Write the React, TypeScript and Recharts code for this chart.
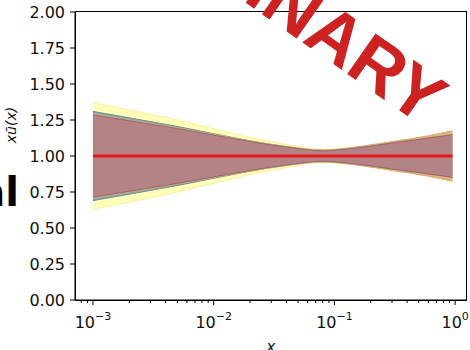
import { ComposedChart, Area, Line, XAxis, YAxis } from "recharts";

// sampling points in x (log spaced)
const xValues = [0.001, 0.002, 0.005, 0.01, 0.02, 0.04, 0.08, 0.15, 0.3, 0.6, 0.95];

// central value (ratio to itself)
const central = [1, 1, 1, 1, 1, 1, 1, 1, 1, 1, 1];

// uncertainty bands, upper and lower edges
const yellowHigh = [1.37, 1.32, 1.25, 1.19, 1.13, 1.08, 1.045, 1.063, 1.1, 1.14, 1.175];
const yellowLow = [0.63, 0.68, 0.75, 0.81, 0.87, 0.92, 0.955, 0.937, 0.9, 0.86, 0.825];
const tealHigh = [1.31, 1.265, 1.205, 1.155, 1.106, 1.065, 1.039, 1.056, 1.092, 1.127, 1.15];
const tealLow = [0.69, 0.735, 0.795, 0.845, 0.894, 0.935, 0.961, 0.944, 0.908, 0.873, 0.85];
const orangeHigh = [1.29, 1.25, 1.195, 1.15, 1.105, 1.066, 1.042, 1.062, 1.1, 1.14, 1.175];
const orangeLow = [0.71, 0.75, 0.805, 0.85, 0.895, 0.934, 0.958, 0.938, 0.9, 0.86, 0.825];
const brownHigh = [1.285, 1.245, 1.19, 1.145, 1.1, 1.062, 1.036, 1.055, 1.09, 1.125, 1.148];
const brownLow = [0.715, 0.755, 0.81, 0.855, 0.9, 0.938, 0.964, 0.945, 0.91, 0.875, 0.852];

const yTicks = [0, 0.25, 0.5, 0.75, 1, 1.25, 1.5, 1.75, 2];
const majorTicks = [0.001, 0.01, 0.1, 1];
const minorTicks = [
  0.0008, 0.0009,
  0.002, 0.003, 0.004, 0.005, 0.006, 0.007, 0.008, 0.009,
  0.02, 0.03, 0.04, 0.05, 0.06, 0.07, 0.08, 0.09,
  0.2, 0.3, 0.4, 0.5, 0.6, 0.7, 0.8, 0.9,
];

const data = xValues.map((x, i) => ({
  x,
  central: central[i],
  yellow: [yellowLow[i], yellowHigh[i]],
  teal: [tealLow[i], tealHigh[i]],
  orange: [orangeLow[i], orangeHigh[i]],
  brown: [brownLow[i], brownHigh[i]],
}));

const FONT = "'DejaVu Sans', sans-serif";

function LogTick(props: any) {
  const { x, y, payload } = props;
  const v = payload.value;
  const major = majorTicks.includes(v);
  const exp = Math.round(Math.log10(v));
  return (
    <g>
      <line x1={x} x2={x} y1={y} y2={y + (major ? 5 : 3)} stroke="#000" strokeWidth={1} />
      {major && (
        <text x={x} y={y + 28} textAnchor="middle" fontFamily={FONT} fontSize={16} fill="#111">
          10
          <tspan dy={-8} fontSize={11}>
            {exp < 0 ? "\u2212" + -exp : String(exp)}
          </tspan>
        </text>
      )}
    </g>
  );
}

export default function App() {
  const W = 470;
  const H = 350;
  return (
    <div style={{ position: "absolute", left: 0, top: 0, width: W, height: H, background: "#fff", overflow: "hidden" }}>
      <ComposedChart width={W} height={H} data={data} margin={{ top: 12, right: 4, left: 0, bottom: 0 }}>
        <XAxis
          dataKey="x"
          type="number"
          scale="log"
          domain={[0.00071, 1.23]}
          allowDataOverflow
          ticks={[...majorTicks, ...minorTicks]}
          interval={0}
          tick={<LogTick />}
          tickLine={false}
          tickSize={0}
          tickMargin={0}
          height={50}
          axisLine={{ stroke: "#000", strokeWidth: 1 }}
        />
        <YAxis
          type="number"
          domain={[0, 2]}
          ticks={yTicks}
          interval={0}
          width={75}
          tickFormatter={(v: number) => v.toFixed(2)}
          tick={{ fill: "#111", fontSize: 16, fontFamily: FONT }}
          tickSize={5}
          tickMargin={5}
          tickLine={{ stroke: "#000" }}
          axisLine={{ stroke: "#000", strokeWidth: 1 }}
        />
        <Area type="monotone" dataKey="yellow" fill="#ffff99" fillOpacity={0.7} stroke="#f6f29a" strokeWidth={1} isAnimationActive={false} dot={false} activeDot={false} />
        <Area type="monotone" dataKey="teal" fill="#7d9ea6" fillOpacity={0.85} stroke="#6f9099" strokeWidth={1} isAnimationActive={false} dot={false} activeDot={false} />
        <Area type="monotone" dataKey="orange" fill="#dcae78" fillOpacity={0.9} stroke="#d9a870" strokeWidth={1} isAnimationActive={false} dot={false} activeDot={false} />
        <Area type="monotone" dataKey="brown" fill="#b48385" fillOpacity={1} stroke="#9c6470" strokeWidth={1} isAnimationActive={false} dot={false} activeDot={false} />
        <Line type="linear" dataKey="central" stroke="#e8141a" strokeWidth={3} dot={false} activeDot={false} isAnimationActive={false} />
      </ComposedChart>
      <svg width={W} height={H} style={{ position: "absolute", left: 0, top: 0, pointerEvents: "none" }}>
        {/* top and right spines */}
        <rect x={75.5} y={11.5} width={391} height={289} fill="none" stroke="#000" strokeWidth={1} />
        <text x={11} y={125} transform="rotate(-90 11 125)" textAnchor="middle" dominantBaseline="central" fontFamily={FONT} fontStyle="italic" fontSize={14} fill="#111">
          xū(x)
        </text>
        <text x={19} y={206} textAnchor="end" fontFamily={FONT} fontWeight="bold" fontSize={40} fill="#000">
          al
        </text>
        <text x={423} y={127} textAnchor="end" transform="rotate(35 423 127)" fontFamily="'Liberation Sans', Arial, sans-serif" fontWeight="bold" fontSize={72} fill="#cc2222">
          PRELIMINARY
        </text>
        <text x={271} y={352} textAnchor="middle" fontFamily={FONT} fontStyle="italic" fontSize={15} fill="#111">
          x
        </text>
      </svg>
    </div>
  );
}
